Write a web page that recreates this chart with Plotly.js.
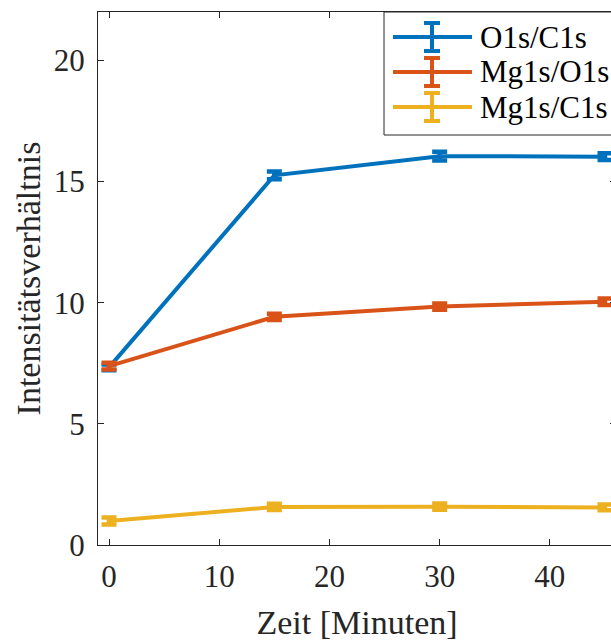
<!DOCTYPE html>
<html>
<head>
<meta charset="utf-8">
<script src="https://cdn.plot.ly/plotly-3.0.1.min.js"></script>
<style>
  html, body { margin: 0; padding: 0; overflow: hidden; background: #fff; }
  #chart { width: 620px; height: 641px; }
</style>
</head>
<body>
<div id="chart"></div>
<script>
// Zeitpunkte der Messung (Minuten)
const zeit = [0, 15, 30, 45];

// Intensitätsverhältnisse je Serie
const o1sC1s = [7.33, 15.26, 16.05, 16.03];
const mg1sO1s = [7.38, 9.42, 9.84, 10.04];
const mg1sC1s = [0.99, 1.57, 1.58, 1.55];

// Standardabweichungen (Fehlerbalken)
const errO1sC1s = [0.12, 0.16, 0.18, 0.14];
const errMg1sO1s = [0.14, 0.13, 0.13, 0.13];
const errMg1sC1s = [0.14, 0.13, 0.13, 0.12];

const seriesNames = ['O1s/C1s', 'Mg1s/O1s', 'Mg1s/C1s'];
const seriesColors = ['#0072BD', '#D95319', '#EDB120'];

const xTicks = [0, 10, 20, 30, 40];
const yTicks = [0, 5, 10, 15, 20];

const axisColor = '#262626';
const fontFamily = "'Liberation Serif', 'Times New Roman', serif";

const seriesY = [o1sC1s, mg1sO1s, mg1sC1s];
const seriesErr = [errO1sC1s, errMg1sO1s, errMg1sC1s];

const traces = seriesY.map((y, i) => ({
  type: 'scatter',
  mode: 'lines',
  x: zeit,
  y: y,
  name: seriesNames[i],
  showlegend: false,
  line: { color: seriesColors[i], width: 4 },
  error_y: {
    type: 'data',
    array: seriesErr[i],
    visible: true,
    color: seriesColors[i],
    thickness: 4.5,
    width: 7.5
  },
  hoverinfo: 'skip'
}));

// Legende im MATLAB-Stil: Rahmen, Liniensymbol mit Fehlerbalken, Text
const plotLeft = 98, plotTop = 12, plotW = 518, plotH = 533;
const px = v => (v - plotLeft) / plotW;
const py = v => (plotTop + plotH - v) / plotH;

const shapes = [{
  type: 'rect', xref: 'paper', yref: 'paper',
  x0: px(384), x1: px(660), y0: py(135), y1: py(12),
  line: { color: axisColor, width: 1 }, fillcolor: '#fff', layer: 'above'
}];
const annotations = [];
const rowY = [37, 72, 107];
seriesNames.forEach((name, i) => {
  const yc = rowY[i];
  const c = seriesColors[i];
  shapes.push({ type: 'line', xref: 'paper', yref: 'paper', layer: 'above',
    x0: px(393), x1: px(472), y0: py(yc), y1: py(yc), line: { color: c, width: 4 } });
  shapes.push({ type: 'line', xref: 'paper', yref: 'paper', layer: 'above',
    x0: px(432), x1: px(432), y0: py(yc - 14), y1: py(yc + 14), line: { color: c, width: 4 } });
  shapes.push({ type: 'line', xref: 'paper', yref: 'paper', layer: 'above',
    x0: px(424), x1: px(440), y0: py(yc - 14), y1: py(yc - 14), line: { color: c, width: 4 } });
  shapes.push({ type: 'line', xref: 'paper', yref: 'paper', layer: 'above',
    x0: px(424), x1: px(440), y0: py(yc + 14), y1: py(yc + 14), line: { color: c, width: 4 } });
  annotations.push({
    xref: 'paper', yref: 'paper', x: px(478), y: py(yc),
    xanchor: 'left', yanchor: 'middle', showarrow: false,
    text: name, font: { family: fontFamily, size: 31, color: '#000' }
  });
});

const layout = {
  width: 620,
  height: 641,
  margin: { l: plotLeft, r: 620 - plotLeft - plotW, t: plotTop, b: 641 - plotTop - plotH, pad: 0 },
  paper_bgcolor: '#fff',
  plot_bgcolor: '#fff',
  font: { family: fontFamily, size: 31, color: axisColor },
  xaxis: {
    range: [-1, 46],
    tickvals: xTicks,
    ticks: 'inside',
    ticklen: 6,
    tickwidth: 1,
    tickcolor: axisColor,
    showline: true,
    linecolor: axisColor,
    linewidth: 1,
    mirror: 'ticks',
    showgrid: false,
    zeroline: false,
    automargin: false,
    ticklabelstandoff: 4,
    title: { text: 'Zeit [Minuten]', font: { family: fontFamily, size: 34, color: axisColor }, standoff: 16 }
  },
  yaxis: {
    range: [0, 22],
    tickvals: yTicks,
    ticks: 'inside',
    ticklen: 6,
    tickwidth: 1,
    tickcolor: axisColor,
    showline: true,
    linecolor: axisColor,
    linewidth: 1,
    mirror: 'ticks',
    showgrid: false,
    zeroline: false,
    automargin: false,
    ticklabelstandoff: 6,
    title: { text: 'Intensitätsverhältnis', font: { family: fontFamily, size: 34, color: axisColor }, standoff: 2 }
  },
  shapes: shapes,
  annotations: annotations
};

Plotly.newPlot('chart', traces, layout, { staticPlot: true, displayModeBar: false });
</script>
</body>
</html>
